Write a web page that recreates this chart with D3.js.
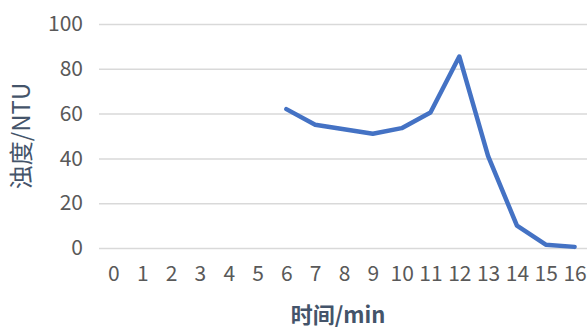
<!DOCTYPE html>
<html>
<head>
<meta charset="utf-8">
<script src="https://cdn.jsdelivr.net/npm/d3@7/dist/d3.min.js"></script>
<style>
  html, body { margin: 0; padding: 0; background: #fff; overflow: hidden; }
  svg { display: block; font-family: "Noto Sans CJK SC", "Noto Sans", sans-serif; }
</style>
</head>
<body>
<svg id="chart" width="587" height="329"></svg>
<script>
// Turbidity readings per minute (no readings before minute 6)
const minutes = [0, 1, 2, 3, 4, 5, 6, 7, 8, 9, 10, 11, 12, 13, 14, 15, 16];
const turbidity = [null, null, null, null, null, null, 62, 55, 53, 51, 53.5, 60.5, 85.5, 41, 10, 1.5, 0.5];
const yTicks = [0, 20, 40, 60, 80, 100];
const xTitle = "时间/min";
const yTitle = "浊度/NTU";

const svg = d3.select("#chart");

const plot = { left: 99, right: 589, top: 24, bottom: 248 };

const x = d3.scalePoint()
  .domain(minutes)
  .range([plot.left, plot.right])
  .padding(0.5);

const y = d3.scaleLinear()
  .domain([0, 100])
  .range([plot.bottom, plot.top]);

// Horizontal gridlines with value labels
const yAxis = d3.axisLeft(y)
  .tickValues(yTicks)
  .tickSize(-(plot.right - plot.left))
  .tickPadding(16);

svg.append("g")
  .attr("transform", `translate(${plot.left},0)`)
  .call(yAxis)
  .call(g => g.select(".domain").remove())
  .call(g => g.selectAll(".tick line").attr("stroke", "#d9d9d9").attr("stroke-width", 1.5))
  .call(g => g.selectAll(".tick text")
    .attr("fill", "#595959")
    .style("font-size", "21px")
    .style("font-family", "'Noto Sans CJK SC', 'Noto Sans', sans-serif"));

// Category labels along the bottom
const xAxis = d3.axisBottom(x).tickSize(0).tickPadding(18);
svg.append("g")
  .attr("transform", `translate(0,${plot.bottom})`)
  .call(xAxis)
  .call(g => g.select(".domain").remove())
  .call(g => g.selectAll(".tick text")
    .attr("fill", "#595959")
    .style("font-size", "21px")
    .style("font-family", "'Noto Sans CJK SC', 'Noto Sans', sans-serif"));

// Turbidity line
const line = d3.line()
  .defined(d => d.v !== null)
  .x(d => x(d.m))
  .y(d => y(d.v));

const series = minutes.map((m, i) => ({ m, v: turbidity[i] }));

svg.append("path")
  .datum(series)
  .attr("fill", "none")
  .attr("stroke", "#4472c4")
  .attr("stroke-width", 4.5)
  .attr("stroke-linejoin", "round")
  .attr("stroke-linecap", "round")
  .attr("d", line);

// Axis titles
svg.append("text")
  .attr("x", 338)
  .attr("y", 323)
  .attr("text-anchor", "middle")
  .attr("fill", "#44546a")
  .style("font-size", "22px")
  .style("font-weight", "bold")
  .text(xTitle);

svg.append("text")
  .attr("transform", "translate(30,136) rotate(-90)")
  .attr("text-anchor", "middle")
  .attr("fill", "#44546a")
  .style("font-size", "24px")
  .text(yTitle);
</script>
</body>
</html>
